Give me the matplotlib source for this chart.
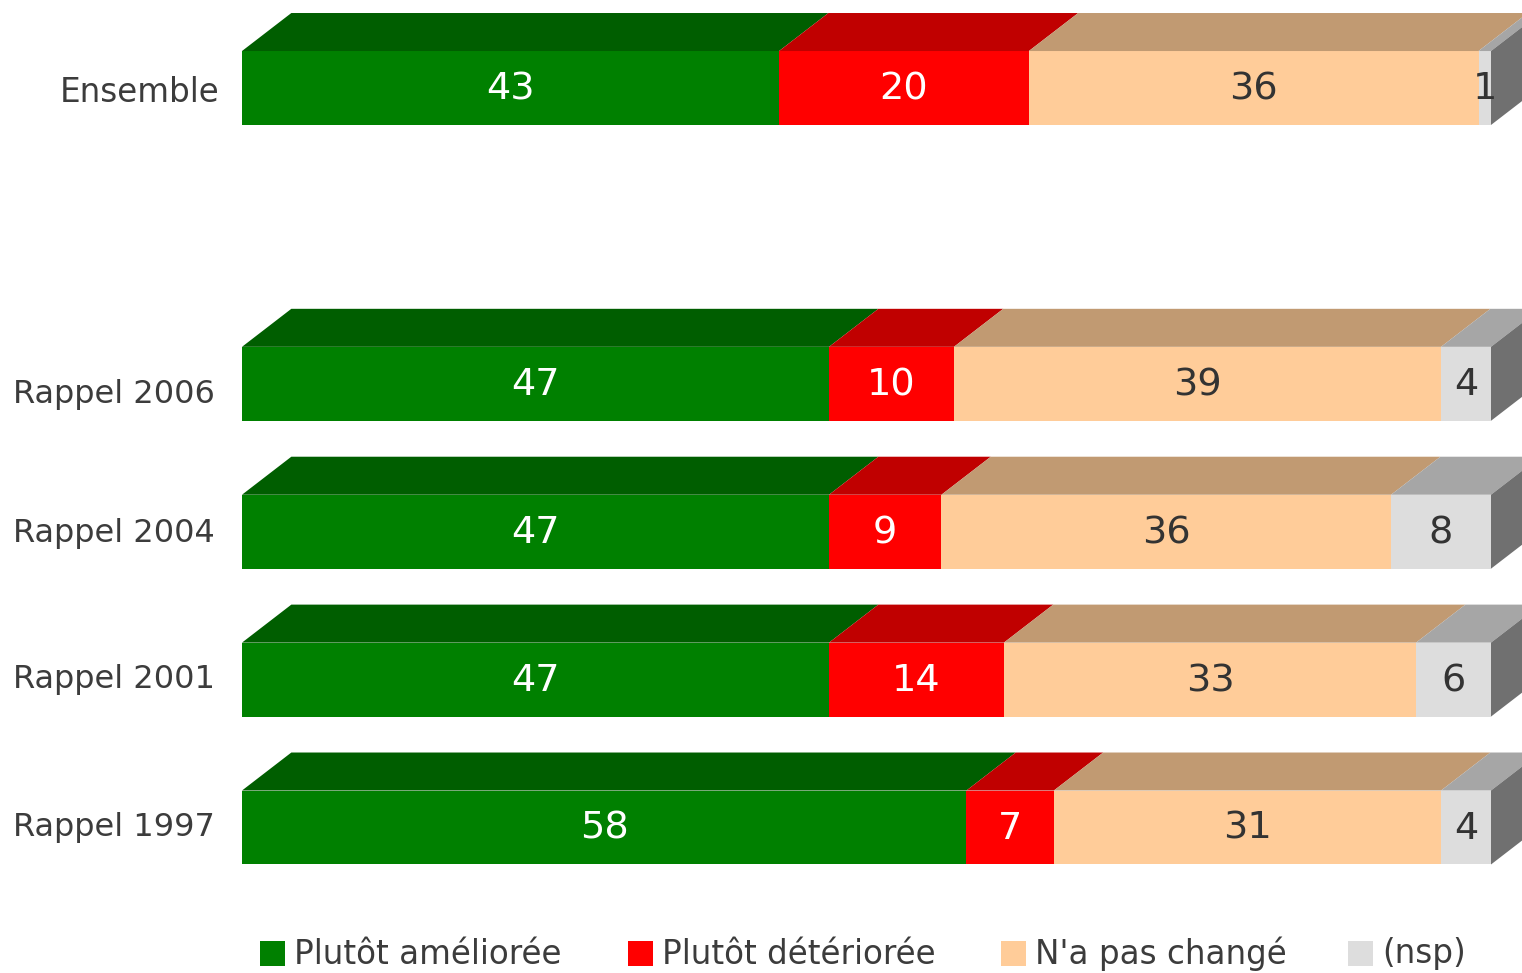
import matplotlib
matplotlib.use('Agg')
import matplotlib.pyplot as plt
from matplotlib.patches import Polygon, Rectangle

plt.rcParams['font.family'] = ['DejaVu Sans']

# data
rows = ["Ensemble", "Rappel 2006", "Rappel 2004", "Rappel 2001", "Rappel 1997"]
row_pos = [0, 2, 3, 4, 5]
ameliore = [43, 47, 47, 47, 58]
deteriore = [20, 10, 9, 14, 7]
pas_change = [36, 39, 36, 33, 31]
nsp = [1, 4, 8, 6, 4]
series_names = ["Plutôt améliorée", "Plutôt détériorée", "N'a pas changé", "(nsp)"]

front_cols = ['#008000', '#FF0000', '#FFCC99', '#DDDDDD']
top_cols = ['#005E00', '#C00000', '#C19A72', '#A6A6A6']
side_col = '#707070'
txt_cols = ['white', 'white', '#333333', '#333333']
label_col = '#3C3C3C'

W, H = 1522, 973
fig = plt.figure(figsize=(W / 100, H / 100), dpi=100)
ax = fig.add_axes([0, 0, 1, 1])
# 1 unit of x = 12.49 px, bar starts at px 242; 1 row = 147.9 px, first bar centre at px 88
ax.set_xlim(-242 / 12.49, (W - 242) / 12.49)
ax.set_ylim((H - 88) / 147.9, -88 / 147.9)
ax.axis('off')

bh = 0.5      # front face height
dx = 3.95     # depth, x units
dy = 0.257    # depth, row units

data = [ameliore, deteriore, pas_change, nsp]
for r, y in enumerate(row_pos):
    left = 0
    top = y - bh / 2
    for s in range(4):
        v = data[s][r]
        right = left + v
        ax.add_patch(Rectangle((left, top), v, bh, facecolor=front_cols[s], edgecolor='none'))
        ax.add_patch(Polygon([(left, top), (left + dx, top - dy), (right + dx, top - dy), (right, top)],
                             closed=True, facecolor=top_cols[s], edgecolor='none'))
        ax.text(left + v / 2, y + 0.01, str(v), ha='center', va='center', fontsize=27.5,
                color=txt_cols[s])
        left = right
    # right side face
    ax.add_patch(Polygon([(left, top), (left + dx, top - dy), (left + dx, top + bh - dy), (left, top + bh)],
                         closed=True, facecolor=side_col, edgecolor='none'))

# row labels
label_dy = [0.03, 0.07, 0.01, 0.0, 0.0]
for r, y in enumerate(row_pos):
    if r == 0:
        ax.text(-22 / 12.49, y + label_dy[r], rows[r], ha='right', va='center', fontsize=23.5, color=label_col)
    else:
        ax.text(-27 / 12.49, y + label_dy[r], rows[r], ha='right', va='center', fontsize=23, color=label_col)

# legend along the bottom
leg_x = [260, 628, 1001, 1348]
for i, name in enumerate(series_names):
    fig.patches.append(Rectangle((leg_x[i] / W, 1 - 966 / H), 25 / W, 25 / H, transform=fig.transFigure,
                                 facecolor=front_cols[i], edgecolor='none'))
    fig.text((leg_x[i] + 34) / W, 1 - 954 / H, name, ha='left', va='center', fontsize=23.5, color=label_col)

fig.savefig('out.png', dpi=100)
